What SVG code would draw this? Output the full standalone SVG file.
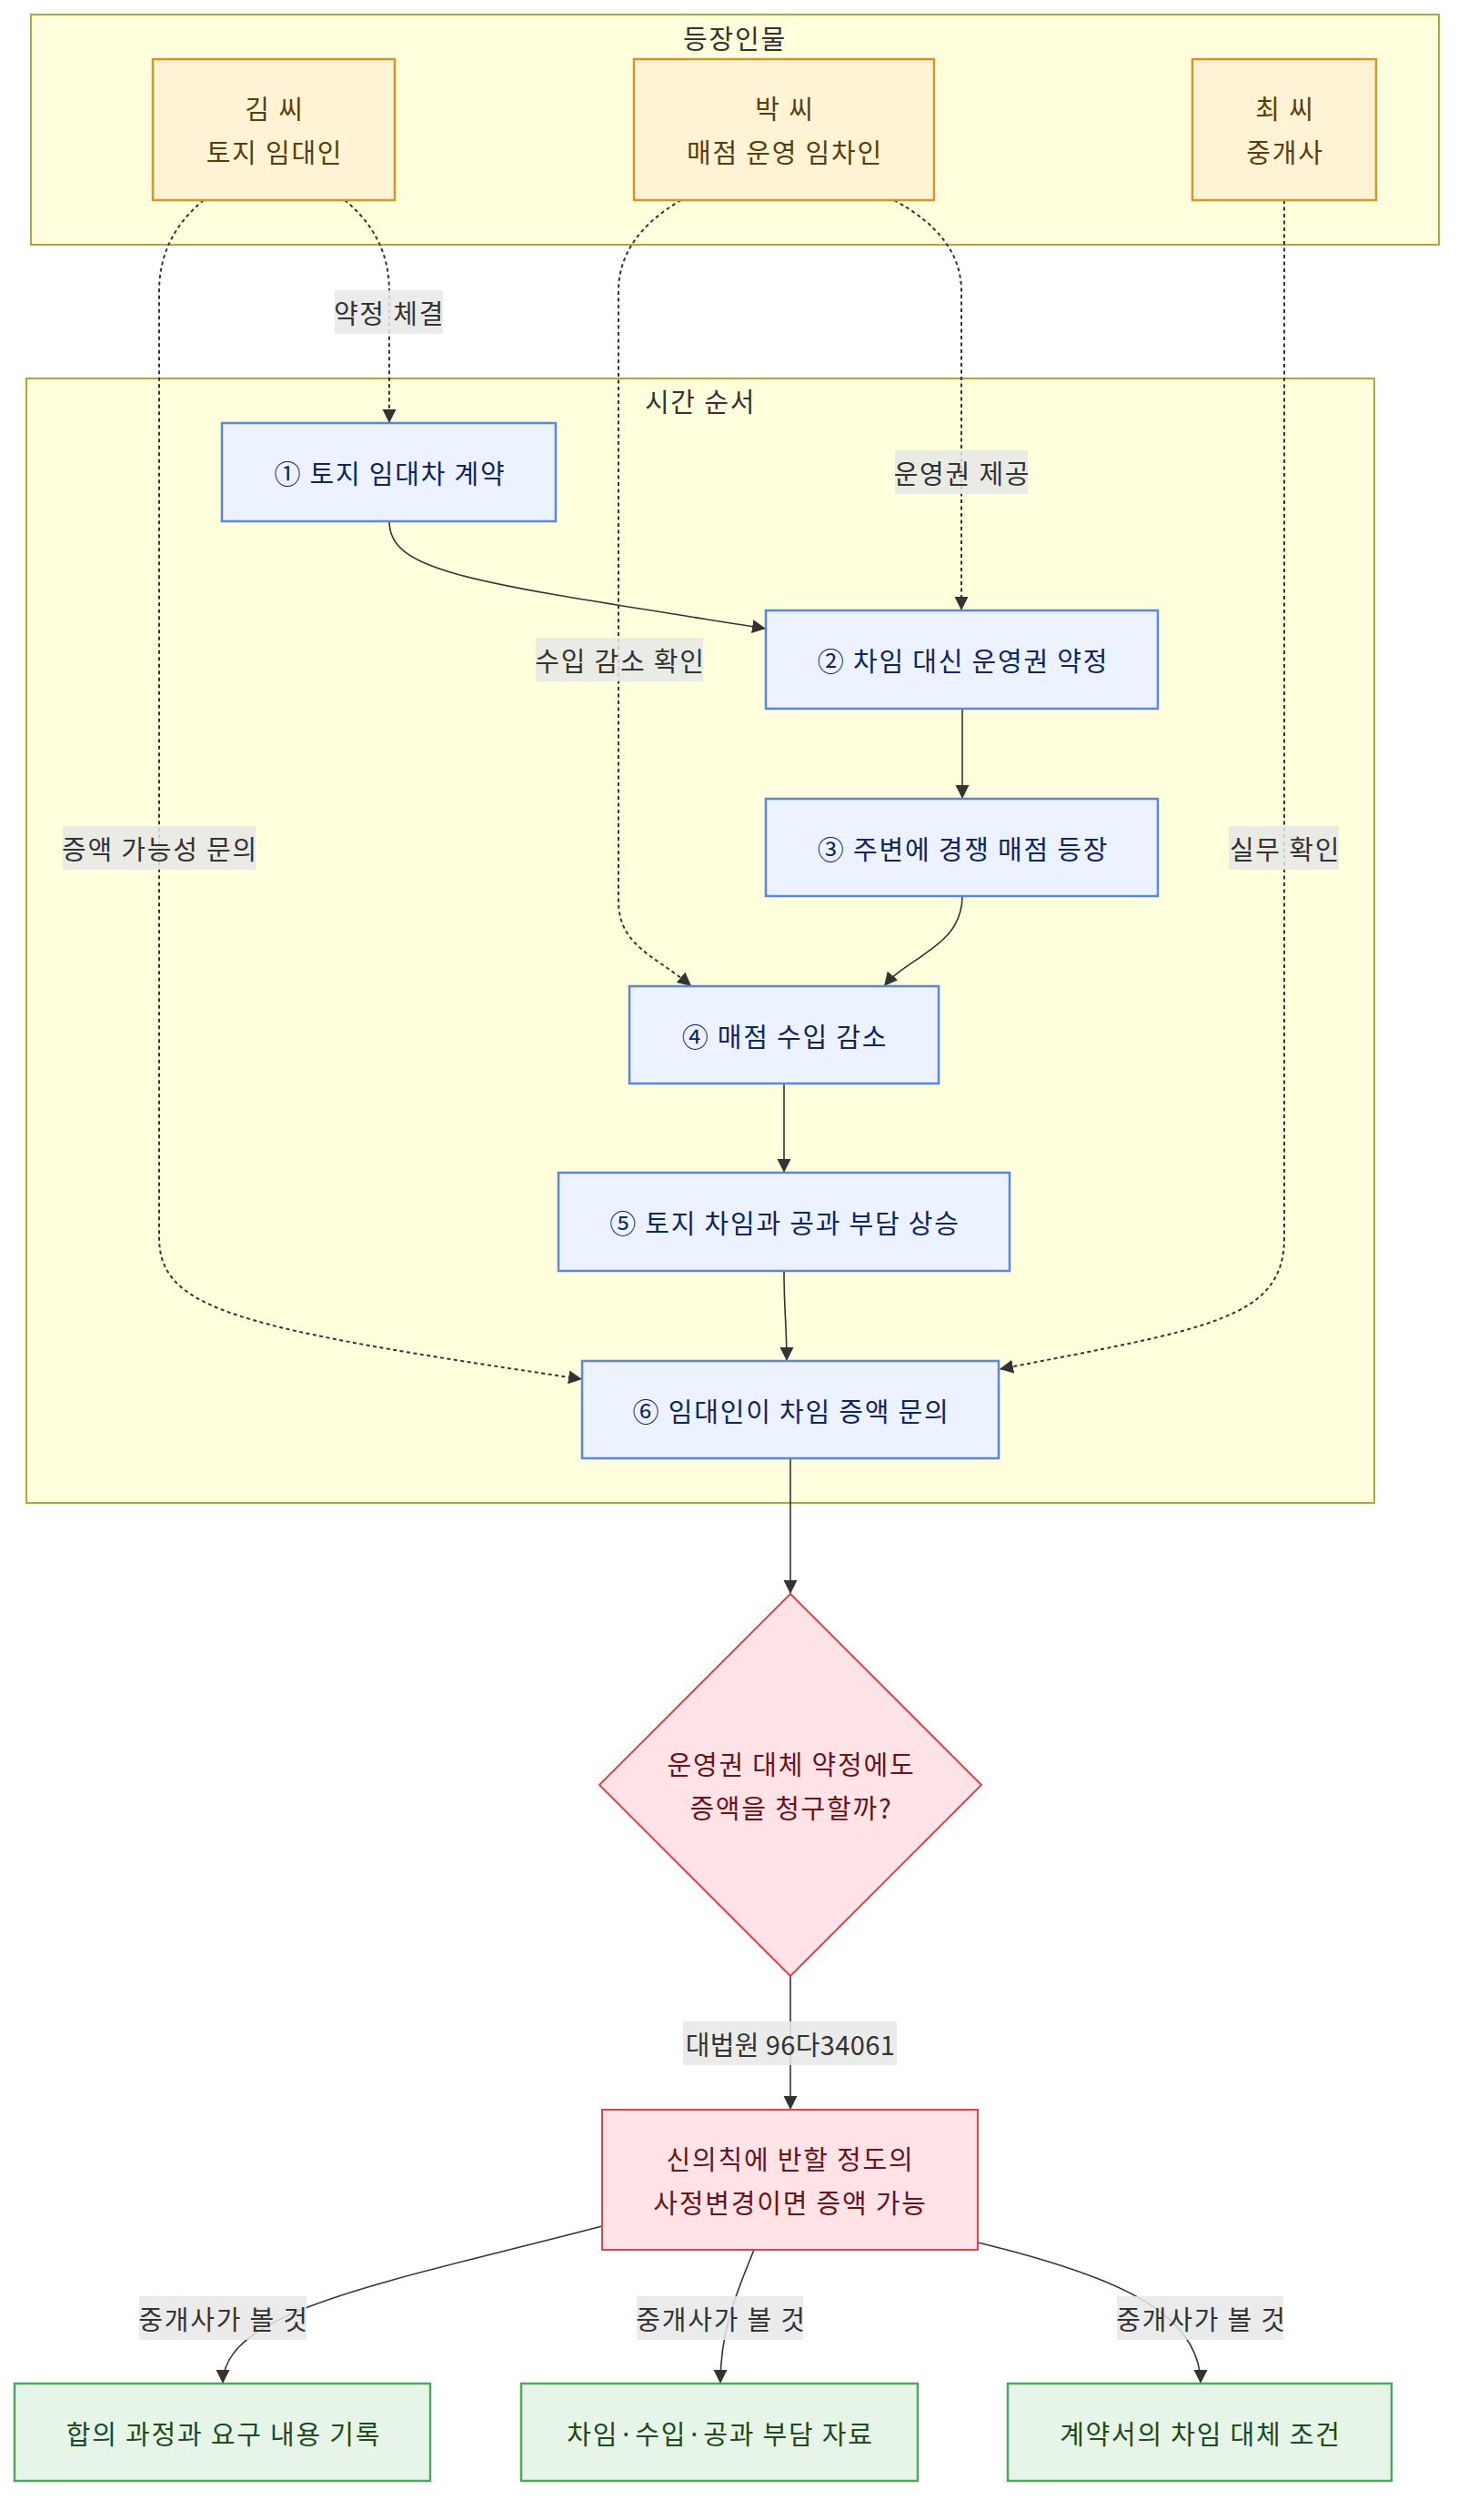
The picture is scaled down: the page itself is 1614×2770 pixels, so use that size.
<svg xmlns="http://www.w3.org/2000/svg" width="1614" height="2770" viewBox="0 0 1614 2770">
<style>
text{font-family:"Noto Sans CJK KR","Noto Sans",sans-serif;font-size:29px;letter-spacing:1.8px;text-anchor:middle;dominant-baseline:central}
.cluster{fill:#ffffde;stroke:#aaaa33;stroke-width:2}
.ctitle{fill:#333}
.actor rect{fill:#fff3d6;stroke:#d4952a;stroke-width:2.5}
.actor text{fill:#5a3d0b}
.step rect{fill:#ecf2ff;stroke:#5b86dd;stroke-width:2.5}
.step text{fill:#0f2561}
.risk polygon,.risk rect{fill:#ffe3e6;stroke:#d9464d;stroke-width:2}
.risk text{fill:#6b1219}
.act rect{fill:#e7f5e8;stroke:#52a560;stroke-width:2.5}
.act text{fill:#1c4a22}
.e{fill:none;stroke:#333;stroke-width:1.6}
.d{fill:none;stroke:#333;stroke-width:2;stroke-dasharray:4 3.5}
.lbl rect{fill:#e8e8e8;fill-opacity:0.85}
.lbl text{fill:#333}
.lbl text.num{letter-spacing:0.4px}
</style>
<defs>
<marker id="ah" markerUnits="userSpaceOnUse" markerWidth="16" markerHeight="16" refX="15" refY="7.5" orient="auto">
<path d="M0,0 L15,7.5 L0,15 z" fill="#333"/>
</marker>
</defs>

<g id="cluster-actors">
<rect class="cluster" x="34" y="16" width="1548" height="253"/>
<text class="ctitle" x="808" y="41">등장인물</text>
</g>
<g id="cluster-timeline">
<rect class="cluster" x="29" y="416" width="1482" height="1236"/>
<text class="ctitle" x="770" y="440">시간 순서</text>
</g>

<g id="connectors">
<path class="d" d="M379,220 Q428,260 428,320 L428,465" marker-end="url(#ah)"/>
<path class="d" d="M224,220 Q175,260 175,320 L175,1360 C175,1440 260,1460 640,1516" marker-end="url(#ah)"/>
<path class="d" d="M749,220 Q680,260 680,320 L680,990 C680,1040 720,1050 760,1084" marker-end="url(#ah)"/>
<path class="d" d="M983,220 Q1057,260 1057,320 L1057,671" marker-end="url(#ah)"/>
<path class="d" d="M1412,220 L1412,1360 C1412,1450 1330,1460 1099,1505" marker-end="url(#ah)"/>
<path class="e" d="M428,573 C428,630 520,640 842,691" marker-end="url(#ah)"/>
<path class="e" d="M1058,779 L1058,878" marker-end="url(#ah)"/>
<path class="e" d="M1058,985 C1058,1040 1000,1050 972,1084" marker-end="url(#ah)"/>
<path class="e" d="M862,1191 L862,1289" marker-end="url(#ah)"/>
<path class="e" d="M862,1397 C862,1440 865,1460 865,1496" marker-end="url(#ah)"/>
<path class="e" d="M869,1603 L869,1752" marker-end="url(#ah)"/>
<path class="e" d="M869,2172 L869,2319" marker-end="url(#ah)"/>
<path class="e" d="M662,2447 C420,2510 245,2540 245,2620" marker-end="url(#ah)"/>
<path class="e" d="M829,2473 C810,2520 792,2560 792,2620" marker-end="url(#ah)"/>
<path class="e" d="M1075,2465 C1220,2500 1320,2540 1320,2620" marker-end="url(#ah)"/>

<g class="lbl"><rect x="368" y="319" width="119" height="48"/><text x="428" y="343">약정 체결</text></g>
<g class="lbl"><rect x="984" y="495" width="146" height="48"/><text x="1058" y="519">운영권 제공</text></g>
<g class="lbl"><rect x="589" y="701" width="184" height="48"/><text x="682" y="725">수입 감소 확인</text></g>
<g class="lbl"><rect x="69" y="908" width="212" height="48"/><text x="176" y="932">증액 가능성 문의</text></g>
<g class="lbl"><rect x="1351" y="908" width="121" height="48"/><text x="1413" y="932">실무 확인</text></g>
<g class="lbl"><rect x="751" y="2222" width="235" height="48"/><text class="num" x="869" y="2246">대법원 96다34061</text></g>
<g class="lbl"><rect x="153" y="2524" width="184" height="48"/><text x="246" y="2548">중개사가 볼 것</text></g>
<g class="lbl"><rect x="700" y="2524" width="183" height="48"/><text x="793" y="2548">중개사가 볼 것</text></g>
<g class="lbl"><rect x="1228" y="2524" width="183" height="48"/><text x="1321" y="2548">중개사가 볼 것</text></g>
</g>

<g id="kim" class="actor"><rect x="168" y="65" width="266" height="155"/><text x="302" y="118">김 씨</text><text x="302" y="166">토지 임대인</text></g>
<g id="park" class="actor"><rect x="697" y="65" width="330" height="155"/><text x="863" y="118">박 씨</text><text x="863" y="166">매점 운영 임차인</text></g>
<g id="choi" class="actor"><rect x="1311" y="65" width="202" height="155"/><text x="1413" y="118">최 씨</text><text x="1413" y="166">중개사</text></g>

<g id="s1" class="step"><rect x="244" y="465" width="367" height="108"/><text x="429" y="519">① 토지 임대차 계약</text></g>
<g id="s2" class="step"><rect x="842" y="671" width="431" height="108"/><text x="1059" y="725">② 차임 대신 운영권 약정</text></g>
<g id="s3" class="step"><rect x="842" y="878" width="431" height="107"/><text x="1059" y="932">③ 주변에 경쟁 매점 등장</text></g>
<g id="s4" class="step"><rect x="692" y="1084" width="340" height="107"/><text x="863" y="1138">④ 매점 수입 감소</text></g>
<g id="s5" class="step"><rect x="614" y="1289" width="496" height="108"/><text x="863" y="1343">⑤ 토지 차임과 공과 부담 상승</text></g>
<g id="s6" class="step"><rect x="640" y="1496" width="458" height="107"/><text x="870" y="1550">⑥ 임대인이 차임 증액 문의</text></g>

<g id="q" class="risk"><polygon points="869,1752 1079,1962 869,2172 659,1962"/><text x="870" y="1938">운영권 대체 약정에도</text><text x="870" y="1986">증액을 청구할까?</text></g>
<g id="rule" class="risk"><rect x="662" y="2319" width="413" height="154"/><text x="869" y="2372">신의칙에 반할 정도의</text><text x="869" y="2420">사정변경이면 증액 가능</text></g>

<g id="a1" class="act"><rect x="16" y="2620" width="457" height="107"/><text x="246" y="2674">합의 과정과 요구 내용 기록</text></g>
<g id="a2" class="act"><rect x="573" y="2620" width="436" height="107"/><text x="792" y="2674">차임·수입·공과 부담 자료</text></g>
<g id="a3" class="act"><rect x="1108" y="2620" width="422" height="107"/><text x="1320" y="2674">계약서의 차임 대체 조건</text></g>
</svg>
